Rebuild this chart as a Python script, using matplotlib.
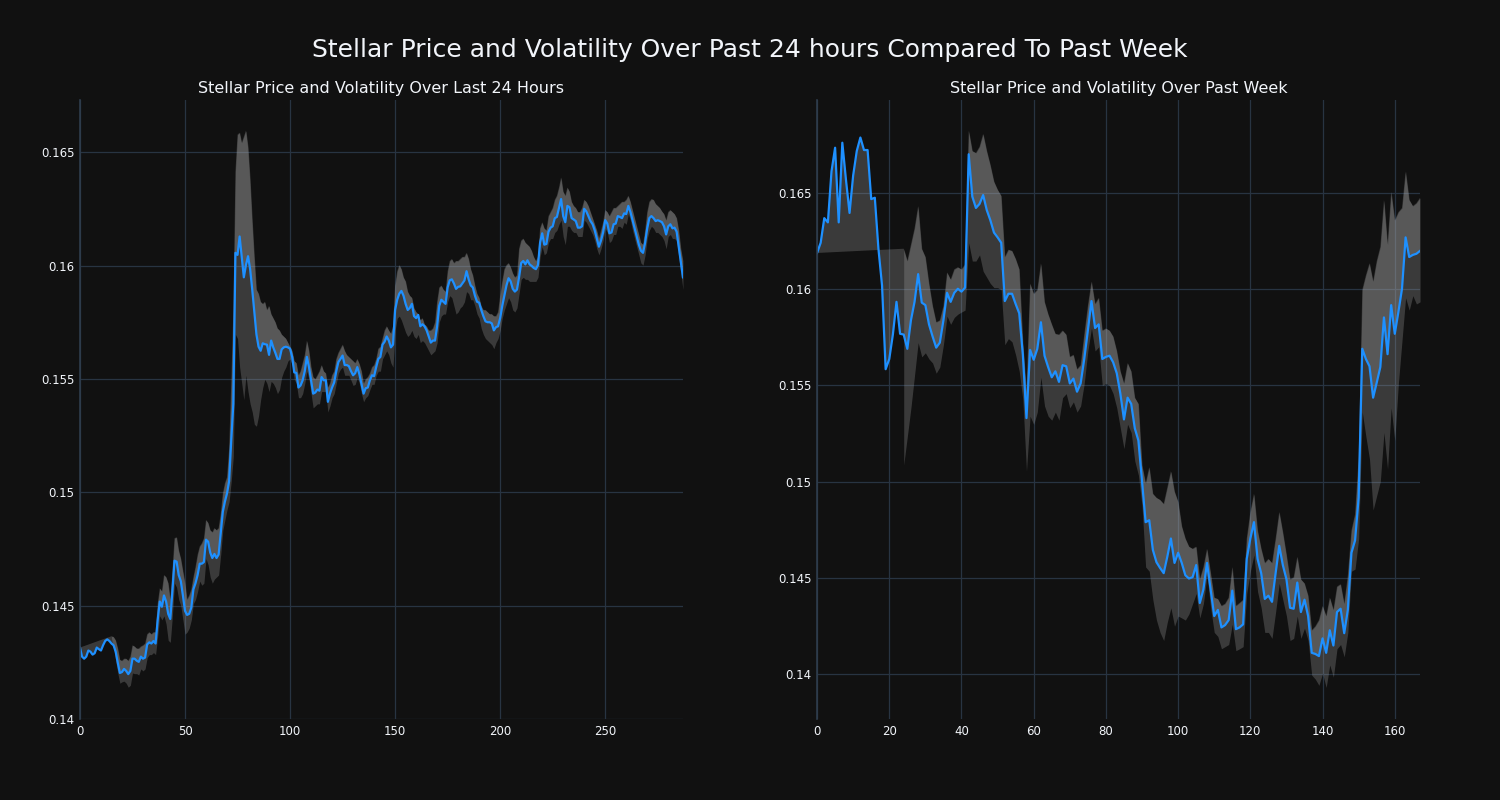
import numpy as np
import matplotlib
matplotlib.use("Agg")
import matplotlib.pyplot as plt

# ---- last 24 hours (5 minute steps) ----
price_24h = [
    0.14315, 0.14275, 0.14266, 0.14275, 0.14302, 0.14297, 0.14284, 0.14290, 0.14315, 0.14308,
    0.14302, 0.14325, 0.14344, 0.14351, 0.14344, 0.14333, 0.14325, 0.14297, 0.14248, 0.14203,
    0.14207, 0.14221, 0.14212, 0.14198, 0.14212, 0.14266, 0.14266, 0.14257, 0.14252, 0.14275,
    0.14266, 0.14271, 0.14329, 0.14338, 0.14333, 0.14344, 0.14333, 0.14437, 0.14518, 0.14495,
    0.14545, 0.14518, 0.14464, 0.14441, 0.14563, 0.14698, 0.14694, 0.14635, 0.14608, 0.14545,
    0.14477, 0.14459, 0.14464, 0.14491, 0.14572, 0.14599, 0.14635, 0.14685, 0.14685, 0.14692,
    0.14791, 0.14782, 0.14734, 0.14710, 0.14728, 0.14710, 0.14725, 0.14818, 0.14914, 0.14959,
    0.14995, 0.15049, 0.15228, 0.15390, 0.16056, 0.16047, 0.16128, 0.16038, 0.15948, 0.16002,
    0.16041, 0.15984, 0.15894, 0.15795, 0.15696, 0.15642, 0.15624, 0.15657, 0.15653, 0.15651,
    0.15606, 0.15669, 0.15639, 0.15615, 0.15588, 0.15588, 0.15630, 0.15639, 0.15642, 0.15639,
    0.15633, 0.15597, 0.15529, 0.15526, 0.15462, 0.15471, 0.15494, 0.15534, 0.15597, 0.15552,
    0.15494, 0.15435, 0.15440, 0.15453, 0.15448, 0.15508, 0.15494, 0.15494, 0.15399, 0.15435,
    0.15462, 0.15484, 0.15534, 0.15574, 0.15588, 0.15603, 0.15561, 0.15561, 0.15556, 0.15534,
    0.15516, 0.15525, 0.15552, 0.15520, 0.15477, 0.15435, 0.15459, 0.15462, 0.15494, 0.15516,
    0.15512, 0.15552, 0.15588, 0.15597, 0.15651, 0.15664, 0.15687, 0.15669, 0.15639, 0.15651,
    0.15804, 0.15849, 0.15876, 0.15888, 0.15867, 0.15831, 0.15804, 0.15813, 0.15831, 0.15777,
    0.15768, 0.15782, 0.15732, 0.15741, 0.15732, 0.15714, 0.15687, 0.15660, 0.15669, 0.15669,
    0.15732, 0.15822, 0.15849, 0.15840, 0.15831, 0.15903, 0.15935, 0.15939, 0.15921, 0.15897,
    0.15906, 0.15908, 0.15921, 0.15934, 0.15975, 0.15939, 0.15912, 0.15903, 0.15867, 0.15840,
    0.15836, 0.15804, 0.15777, 0.15754, 0.15750, 0.15750, 0.15745, 0.15714, 0.15728, 0.15732,
    0.15768, 0.15822, 0.15867, 0.15912, 0.15944, 0.15930, 0.15897, 0.15885, 0.15894, 0.15948,
    0.16011, 0.16020, 0.16005, 0.16023, 0.16005, 0.15998, 0.15989, 0.15984, 0.16002, 0.16101,
    0.16142, 0.16092, 0.16095, 0.16149, 0.16167, 0.16173, 0.16209, 0.16214, 0.16254, 0.16293,
    0.16218, 0.16191, 0.16263, 0.16257, 0.16209, 0.16203, 0.16196, 0.16167, 0.16167, 0.16173,
    0.16250, 0.16239, 0.16218, 0.16196, 0.16182, 0.16155, 0.16119, 0.16083, 0.16110, 0.16146,
    0.16200, 0.16185, 0.16142, 0.16146, 0.16182, 0.16185, 0.16218, 0.16214, 0.16209, 0.16230,
    0.16227, 0.16263, 0.16236, 0.16200, 0.16164, 0.16128, 0.16092, 0.16065, 0.16056, 0.16101,
    0.16164, 0.16209, 0.16218, 0.16209, 0.16196, 0.16200, 0.16196, 0.16191, 0.16173, 0.16137,
    0.16173, 0.16182, 0.16164, 0.16167, 0.16149, 0.16083, 0.16020, 0.15948,
]

# volatility band starts after the rolling window fills
start_24h = 15
upper_24h = [
    0.14365, 0.14362, 0.14347, 0.14311, 0.14261,
    0.14257, 0.14266, 0.14266, 0.14257, 0.14275, 0.14325, 0.14320, 0.14311, 0.14311, 0.14320,
    0.14325, 0.14333, 0.14374, 0.14383, 0.14374, 0.14383, 0.14383, 0.14509, 0.14577, 0.14563,
    0.14635, 0.14626, 0.14599, 0.14527, 0.14653, 0.14797, 0.14802, 0.14743, 0.14707, 0.14653,
    0.14599, 0.14527, 0.14545, 0.14572, 0.14626, 0.14671, 0.14725, 0.14761, 0.14775, 0.14797,
    0.14878, 0.14865, 0.14833, 0.14824, 0.14842, 0.14833, 0.14842, 0.14905, 0.14995, 0.15040,
    0.15067, 0.15192, 0.15480, 0.15804, 0.16415, 0.16577, 0.16586, 0.16541, 0.16568, 0.16595,
    0.16523, 0.16379, 0.16200, 0.16038, 0.15894, 0.15876, 0.15840, 0.15831, 0.15840, 0.15804,
    0.15822, 0.15786, 0.15768, 0.15750, 0.15723, 0.15714, 0.15696, 0.15687, 0.15678, 0.15660,
    0.15642, 0.15624, 0.15579, 0.15570, 0.15516, 0.15534, 0.15570, 0.15606, 0.15669, 0.15624,
    0.15552, 0.15508, 0.15499, 0.15516, 0.15534, 0.15561, 0.15534, 0.15525, 0.15462, 0.15480,
    0.15516, 0.15534, 0.15588, 0.15615, 0.15633, 0.15651, 0.15624, 0.15606, 0.15597, 0.15588,
    0.15579, 0.15570, 0.15588, 0.15566, 0.15534, 0.15480, 0.15499, 0.15508, 0.15525, 0.15552,
    0.15561, 0.15588, 0.15633, 0.15642, 0.15678, 0.15714, 0.15732, 0.15714, 0.15700, 0.15732,
    0.15912, 0.15975, 0.16002, 0.15984, 0.15948, 0.15930, 0.15885, 0.15867, 0.15858, 0.15813,
    0.15795, 0.15786, 0.15759, 0.15768, 0.15741, 0.15732, 0.15714, 0.15714, 0.15723, 0.15750,
    0.15840, 0.15903, 0.15912, 0.15894, 0.15885, 0.15975, 0.16020, 0.16029, 0.16011, 0.16020,
    0.16020, 0.16029, 0.16038, 0.16038, 0.16056, 0.16029, 0.15984, 0.15957, 0.15912, 0.15876,
    0.15858, 0.15822, 0.15804, 0.15804, 0.15795, 0.15786, 0.15786, 0.15777, 0.15777, 0.15795,
    0.15867, 0.15930, 0.15984, 0.16002, 0.16011, 0.15993, 0.15966, 0.15948, 0.15957, 0.16074,
    0.16110, 0.16119, 0.16101, 0.16092, 0.16083, 0.16065, 0.16038, 0.16020, 0.16038, 0.16164,
    0.16191, 0.16164, 0.16155, 0.16218, 0.16236, 0.16254, 0.16290, 0.16308, 0.16344, 0.16389,
    0.16326, 0.16308, 0.16344, 0.16326, 0.16281, 0.16263, 0.16254, 0.16236, 0.16236, 0.16254,
    0.16290, 0.16281, 0.16263, 0.16236, 0.16209, 0.16182, 0.16155, 0.16119, 0.16155, 0.16191,
    0.16245, 0.16236, 0.16218, 0.16236, 0.16254, 0.16254, 0.16263, 0.16272, 0.16281, 0.16281,
    0.16290, 0.16308, 0.16281, 0.16245, 0.16209, 0.16173, 0.16137, 0.16101, 0.16092, 0.16155,
    0.16236, 0.16281, 0.16293, 0.16290, 0.16272, 0.16263, 0.16254, 0.16239, 0.16227, 0.16200,
    0.16236, 0.16245, 0.16236, 0.16227, 0.16209, 0.16155, 0.16074, 0.16020,
]
lower_24h = [
    0.14356, 0.14315, 0.14257, 0.14203, 0.14158,
    0.14164, 0.14167, 0.14158, 0.14140, 0.14149, 0.14203, 0.14200, 0.14200, 0.14194, 0.14221,
    0.14212, 0.14221, 0.14271, 0.14284, 0.14284, 0.14293, 0.14284, 0.14365, 0.14455, 0.14437,
    0.14455, 0.14419, 0.14347, 0.14338, 0.14455, 0.14599, 0.14581, 0.14527, 0.14500, 0.14437,
    0.14374, 0.14383, 0.14401, 0.14437, 0.14509, 0.14527, 0.14563, 0.14608, 0.14590, 0.14599,
    0.14707, 0.14680, 0.14626, 0.14599, 0.14617, 0.14626, 0.14635, 0.14725, 0.14833, 0.14878,
    0.14923, 0.14959, 0.15049, 0.15157, 0.15696, 0.15678, 0.15552, 0.15480, 0.15408, 0.15516,
    0.15444, 0.15390, 0.15354, 0.15300, 0.15291, 0.15336, 0.15408, 0.15462, 0.15498, 0.15480,
    0.15444, 0.15489, 0.15480, 0.15462, 0.15435, 0.15453, 0.15507, 0.15534, 0.15552, 0.15579,
    0.15588, 0.15561, 0.15498, 0.15480, 0.15417, 0.15417, 0.15435, 0.15480, 0.15534, 0.15498,
    0.15435, 0.15372, 0.15381, 0.15390, 0.15390, 0.15444, 0.15444, 0.15444, 0.15354, 0.15381,
    0.15417, 0.15435, 0.15480, 0.15525, 0.15543, 0.15552, 0.15516, 0.15516, 0.15516, 0.15494,
    0.15471, 0.15476, 0.15507, 0.15480, 0.15435, 0.15399, 0.15417, 0.15426, 0.15453, 0.15476,
    0.15476, 0.15516, 0.15534, 0.15534, 0.15588, 0.15606, 0.15624, 0.15606, 0.15570, 0.15552,
    0.15714, 0.15768, 0.15777, 0.15759, 0.15732, 0.15705, 0.15687, 0.15696, 0.15714, 0.15687,
    0.15678, 0.15696, 0.15660, 0.15669, 0.15660, 0.15642, 0.15624, 0.15606, 0.15615, 0.15624,
    0.15660, 0.15750, 0.15777, 0.15786, 0.15786, 0.15840, 0.15867, 0.15858, 0.15822, 0.15786,
    0.15795, 0.15813, 0.15822, 0.15840, 0.15885, 0.15876, 0.15849, 0.15849, 0.15822, 0.15786,
    0.15768, 0.15723, 0.15696, 0.15678, 0.15669, 0.15660, 0.15651, 0.15633, 0.15660, 0.15678,
    0.15714, 0.15768, 0.15804, 0.15831, 0.15858, 0.15840, 0.15804, 0.15795, 0.15813, 0.15876,
    0.15939, 0.15948, 0.15939, 0.15939, 0.15930, 0.15930, 0.15930, 0.15930, 0.15948, 0.16038,
    0.16083, 0.16047, 0.16056, 0.16101, 0.16119, 0.16119, 0.16146, 0.16155, 0.16182, 0.16200,
    0.16128, 0.16092, 0.16173, 0.16173, 0.16155, 0.16146, 0.16146, 0.16128, 0.16128, 0.16128,
    0.16200, 0.16191, 0.16173, 0.16155, 0.16137, 0.16110, 0.16074, 0.16047, 0.16074, 0.16110,
    0.16164, 0.16146, 0.16101, 0.16110, 0.16137, 0.16137, 0.16173, 0.16173, 0.16164, 0.16191,
    0.16182, 0.16227, 0.16200, 0.16155, 0.16119, 0.16083, 0.16047, 0.16011, 0.16002, 0.16047,
    0.16119, 0.16155, 0.16173, 0.16164, 0.16146, 0.16146, 0.16137, 0.16128, 0.16110, 0.16074,
    0.16128, 0.16137, 0.16119, 0.16119, 0.16110, 0.16038, 0.15966, 0.15894,
]

# ---- past week (hourly) ----
price_week = [
    0.16188, 0.16241, 0.16369, 0.16347, 0.16612, 0.16735, 0.16347, 0.16761, 0.16570, 0.16396,
    0.16591, 0.16718, 0.16788, 0.16723, 0.16723, 0.16468, 0.16475, 0.16210, 0.16019, 0.15584,
    0.15637, 0.15764, 0.15934, 0.15768, 0.15764, 0.15690, 0.15838, 0.15934, 0.16078, 0.15930,
    0.15917, 0.15817, 0.15754, 0.15696, 0.15722, 0.15838, 0.15981, 0.15934, 0.15981, 0.16002,
    0.15987, 0.16008, 0.16701, 0.16481, 0.16422, 0.16443, 0.16489, 0.16411, 0.16358, 0.16294,
    0.16269, 0.16241, 0.15938, 0.15976, 0.15976, 0.15923, 0.15874, 0.15658, 0.15330, 0.15684,
    0.15633, 0.15690, 0.15828, 0.15654, 0.15595, 0.15542, 0.15573, 0.15518, 0.15605, 0.15599,
    0.15510, 0.15535, 0.15467, 0.15510, 0.15637, 0.15785, 0.15938, 0.15798, 0.15817, 0.15637,
    0.15648, 0.15654, 0.15620, 0.15563, 0.15457, 0.15323, 0.15436, 0.15404, 0.15277, 0.15213,
    0.15001, 0.14789, 0.14799, 0.14645, 0.14581, 0.14551, 0.14524, 0.14609, 0.14704, 0.14577,
    0.14630, 0.14577, 0.14513, 0.14496, 0.14503, 0.14566, 0.14369, 0.14439, 0.14577, 0.14439,
    0.14301, 0.14333, 0.14242, 0.14254, 0.14280, 0.14433, 0.14233, 0.14242, 0.14258, 0.14598,
    0.14704, 0.14789, 0.14598, 0.14524, 0.14390, 0.14407, 0.14375, 0.14524, 0.14666, 0.14566,
    0.14492, 0.14344, 0.14339, 0.14475, 0.14322, 0.14386, 0.14301, 0.14110, 0.14104, 0.14093,
    0.14185, 0.14110, 0.14227, 0.14148, 0.14322, 0.14339, 0.14212, 0.14333, 0.14630, 0.14694,
    0.14916, 0.15690, 0.15637, 0.15599, 0.15436, 0.15514, 0.15595, 0.15853, 0.15662, 0.15917,
    0.15768, 0.15881, 0.16002, 0.16269, 0.16167, 0.16178, 0.16184, 0.16199,
]

start_week = 24
upper_week = [
    0.16210, 0.16146, 0.16231, 0.16316, 0.16432, 0.16210,
    0.16167, 0.16029, 0.15913, 0.15828, 0.15838, 0.15913, 0.16087, 0.16050, 0.16103, 0.16114,
    0.16103, 0.16129, 0.16824, 0.16718, 0.16708, 0.16740, 0.16807, 0.16718, 0.16644, 0.16559,
    0.16517, 0.16485, 0.16167, 0.16205, 0.16199, 0.16157, 0.16103, 0.15722, 0.15467, 0.16029,
    0.15976, 0.15997, 0.16135, 0.15934, 0.15870, 0.15817, 0.15768, 0.15764, 0.15785, 0.15764,
    0.15648, 0.15659, 0.15584, 0.15605, 0.15764, 0.15913, 0.16040, 0.15923, 0.15955, 0.15785,
    0.15796, 0.15785, 0.15754, 0.15679, 0.15573, 0.15510, 0.15616, 0.15573, 0.15436, 0.15404,
    0.15086, 0.14990, 0.15075, 0.14937, 0.14916, 0.14905, 0.14884, 0.14969, 0.15054, 0.14948,
    0.14895, 0.14768, 0.14704, 0.14662, 0.14651, 0.14662, 0.14492, 0.14556, 0.14651, 0.14524,
    0.14397, 0.14390, 0.14354, 0.14365, 0.14397, 0.14556, 0.14354, 0.14369, 0.14386, 0.14704,
    0.14842, 0.14937, 0.14746, 0.14651, 0.14577, 0.14598, 0.14577, 0.14704, 0.14842, 0.14736,
    0.14619, 0.14492, 0.14503, 0.14609, 0.14492, 0.14471, 0.14407, 0.14227, 0.14248, 0.14280,
    0.14354, 0.14301, 0.14397, 0.14333, 0.14454, 0.14467, 0.14365, 0.14513, 0.14746, 0.14831,
    0.15128, 0.15997, 0.16072, 0.16135, 0.16040, 0.16146, 0.16220, 0.16464, 0.16231, 0.16506,
    0.16358, 0.16400, 0.16422, 0.16612, 0.16464, 0.16432, 0.16447, 0.16475,
]
lower_week = [
    0.15086, 0.15234, 0.15383, 0.15552, 0.15722, 0.15648,
    0.15669, 0.15637, 0.15616, 0.15563, 0.15595, 0.15711, 0.15860, 0.15817, 0.15853, 0.15870,
    0.15881, 0.15891, 0.16241, 0.16146, 0.16146, 0.16178, 0.16093, 0.16061, 0.16029, 0.16008,
    0.16008, 0.15997, 0.15711, 0.15743, 0.15726, 0.15658, 0.15573, 0.15425, 0.15054, 0.15340,
    0.15297, 0.15361, 0.15542, 0.15393, 0.15340, 0.15319, 0.15361, 0.15319, 0.15436, 0.15457,
    0.15383, 0.15414, 0.15361, 0.15393, 0.15510, 0.15679, 0.15798, 0.15679, 0.15700, 0.15499,
    0.15510, 0.15499, 0.15457, 0.15383, 0.15277, 0.15171, 0.15298, 0.15255, 0.15107, 0.15033,
    0.14874, 0.14556, 0.14534, 0.14386, 0.14280, 0.14216, 0.14174, 0.14269, 0.14344, 0.14248,
    0.14301, 0.14291, 0.14280, 0.14312, 0.14365, 0.14418, 0.14291, 0.14365, 0.14513, 0.14344,
    0.14216, 0.14195, 0.14131, 0.14142, 0.14153, 0.14258, 0.14121, 0.14131, 0.14142, 0.14418,
    0.14534, 0.14619, 0.14428, 0.14344, 0.14216, 0.14216, 0.14185, 0.14322, 0.14471, 0.14386,
    0.14301, 0.14174, 0.14185, 0.14301, 0.14185, 0.14238, 0.14174, 0.13994, 0.13973, 0.13941,
    0.14004, 0.13930, 0.14047, 0.13983, 0.14131, 0.14153, 0.14089, 0.14216, 0.14534, 0.14545,
    0.14704, 0.15361, 0.15234, 0.15117, 0.14852, 0.14927, 0.15001, 0.15255, 0.15065, 0.15383,
    0.15213, 0.15510, 0.15732, 0.15955, 0.15891, 0.15966, 0.15923, 0.15934,
]

yticks = [0.14, 0.145, 0.15, 0.155, 0.16, 0.165]
ytick_labels = ['0.14', '0.145', '0.15', '0.155', '0.16', '0.165']

BG = '#111111'
GRID = '#283442'
TEXT = '#f2f5fa'
LINE = '#1e90ff'
BAND = '#aaaaaa'


def draw_panel(ax, price, upper, lower, start, title, xticks, ylim):
    x = np.arange(len(price))
    price = np.array(price)
    xb = x[start:]
    upper = np.array(upper)
    lower = np.array(lower)

    # price -> upper band (closes back to the first price like a filled trace)
    ax.fill(np.concatenate([x, xb[::-1]]), np.concatenate([price, upper[::-1]]),
            color=BAND, alpha=0.27, lw=0)
    # upper -> lower band
    ax.fill_between(xb, lower, upper, color=BAND, alpha=0.27, lw=0)
    ax.plot(x, price, color=LINE, lw=1.6)

    ax.set_facecolor(BG)
    ax.set_xlim(0, len(price) - 1)
    ax.set_ylim(*ylim)
    ax.set_xticks(xticks)
    ax.set_yticks(yticks)
    ax.set_yticklabels(ytick_labels)
    ax.grid(True, color=GRID, lw=0.9)
    ax.set_axisbelow(True)
    ax.tick_params(colors=TEXT, labelsize=8.5, length=0, pad=4)
    for side in ['top', 'right', 'bottom']:
        ax.spines[side].set_visible(False)
    ax.spines['left'].set_color('#2f3d4d')
    ax.spines['left'].set_linewidth(1.2)
    ax.set_title(title, color=TEXT, fontsize=11.5, pad=5)


fig = plt.figure(figsize=(15, 8), dpi=100, facecolor=BG)
ax1 = fig.add_axes([0.0533, 0.10125, 0.402, 0.77375])
ax2 = fig.add_axes([0.5447, 0.10125, 0.402, 0.77375])

draw_panel(ax1, price_24h, upper_24h, lower_24h, start_24h,
           'Stellar Price and Volatility Over Last 24 Hours',
           [0, 50, 100, 150, 200, 250], (0.14, 0.1673))
draw_panel(ax2, price_week, upper_week, lower_week, start_week,
           'Stellar Price and Volatility Over Past Week',
           [0, 20, 40, 60, 80, 100, 120, 140, 160], (0.13766, 0.16983))

fig.suptitle('Stellar Price and Volatility Over Past 24 hours Compared To Past Week',
             color=TEXT, fontsize=18, y=0.9375, va='center')

fig.savefig('out.png', dpi=100, facecolor=BG)
plt.close(fig)
